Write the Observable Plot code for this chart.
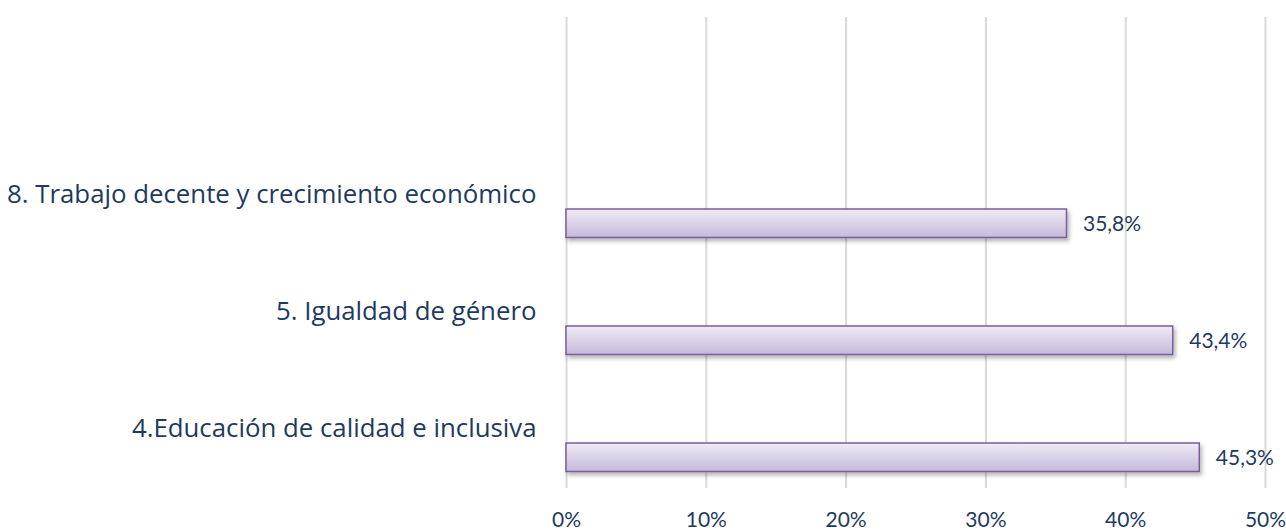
<!DOCTYPE html>
<html>
<head>
<meta charset="utf-8">
<script src="https://cdn.jsdelivr.net/npm/d3@7"></script>
<script src="https://cdn.jsdelivr.net/npm/@observablehq/plot@0.6"></script>
<style>
  html, body { margin: 0; padding: 0; background: #fff; }
  #chart { width: 1286px; height: 530px; }
</style>
</head>
<body>
<div id="chart"></div>
<script>
// Categories, top to bottom (the first slot is an empty category in the original chart)
const categories = ["", "8. Trabajo decente y crecimiento económico", "5. Igualdad de género", "4.Educación de calidad e inclusiva"];
const values = [null, 0.358, 0.434, 0.453];
const xTicks = [0, 0.1, 0.2, 0.3, 0.4, 0.5];

const data = categories.map((c, i) => ({category: c, value: values[i]})).filter(d => d.value != null);

const textColor = "#1f3a5f";
const fmtPct = v => d3.format(".1f")(v * 100).replace(".", ",") + "%";

const plot = Plot.plot({
  width: 1286,
  height: 530,
  marginLeft: 566,
  marginRight: 21,
  marginTop: 17,
  marginBottom: 42,
  style: {fontFamily: "Lato, 'Open Sans', sans-serif", color: textColor, background: "#fff"},
  x: {
    domain: [0, 0.5],
    ticks: xTicks,
    tickFormat: d => Math.round(d * 100) + "%",
    grid: true,
    label: null,
    tickSize: 0,
    tickPadding: 24
  },
  y: {
    domain: categories,
    padding: 0,
    label: null,
    tickSize: 0,
    tickPadding: 30
  },
  marks: [
    Plot.barX(data, {
      x: "value",
      y: "category",
      insetTop: 73,
      insetBottom: 15.5,
      fill: "#dcd4e9",
      stroke: "#7a5d98",
      strokeWidth: 1.5
    }),
    Plot.text(data, {
      x: "value",
      y: "category",
      text: d => fmtPct(d.value),
      textAnchor: "start",
      dx: 16,
      dy: 29,
      fontSize: 21,
      fill: textColor
    })
  ]
});

// style tweaks
const svg = d3.select(plot);
const defs = svg.insert("defs", ":first-child");
const grad = defs.append("linearGradient").attr("id", "barGrad").attr("x1", 0).attr("y1", 0).attr("x2", 0).attr("y2", 1);
grad.append("stop").attr("offset", "0%").attr("stop-color", "#efebf6");
grad.append("stop").attr("offset", "100%").attr("stop-color", "#c5b9da");
const shadow = defs.append("filter").attr("id", "barShadow").attr("x", "-5%").attr("y", "-20%").attr("width", "115%").attr("height", "160%");
shadow.append("feDropShadow").attr("dx", 2).attr("dy", 3).attr("stdDeviation", 2).attr("flood-color", "#000").attr("flood-opacity", 0.3);

svg.selectAll("g[aria-label='bar']").attr("fill", "url(#barGrad)").attr("filter", "url(#barShadow)");
svg.selectAll("g[aria-label='x-grid'] line, g[aria-label='x-grid']").attr("stroke", "#d9d9d9").attr("stroke-opacity", 1).attr("stroke-width", 2);
svg.selectAll("g[aria-label='x-axis tick label']").attr("font-size", 21);
svg.selectAll("g[aria-label='y-axis tick label']").attr("font-size", 25.8).attr("font-family", "'Open Sans', sans-serif");
svg.selectAll("g[aria-label='x-axis tick label'], g[aria-label='y-axis tick label']").attr("fill", textColor);

document.getElementById("chart").appendChild(plot);
</script>
</body>
</html>
